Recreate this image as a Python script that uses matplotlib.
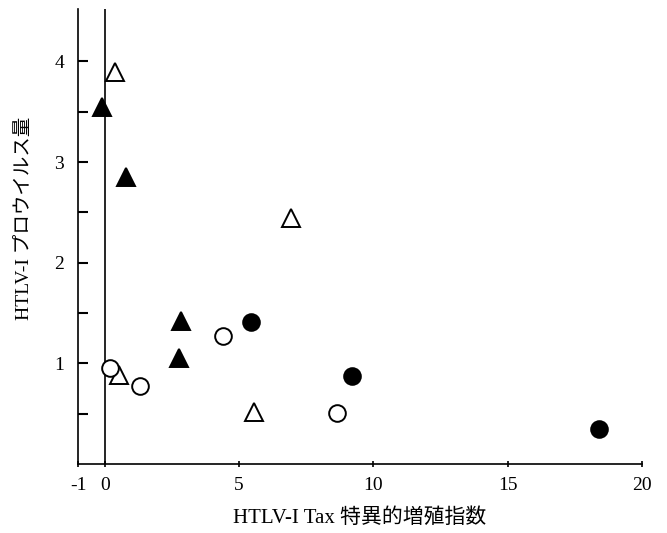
import matplotlib
matplotlib.use("Agg")
import matplotlib.pyplot as plt

plt.rcParams['font.family'] = ['Liberation Serif', 'Noto Sans CJK JP', 'DejaVu Sans']

# Data
filled_tri_x = [-0.1, 0.8, 2.84, 2.76]
filled_tri_y = [3.55, 2.85, 1.42, 1.05]
open_tri_x = [0.37, 6.94, 5.56, 0.52]
open_tri_y = [3.89, 2.44, 0.52, 0.88]
open_circ_x = [0.19, 1.31, 4.4, 8.66]
open_circ_y = [0.95, 0.77, 1.27, 0.51]
filled_circ_x = [5.45, 9.2, 18.4]
filled_circ_y = [1.41, 0.87, 0.35]

x_ticks = [-1, 0, 5, 10, 15, 20]
y_major = [1, 2, 3, 4]
y_minor = [0.5, 1.5, 2.5, 3.5]

xlabel = "HTLV-I Tax 特異的増殖指数"
ylabel = "HTLV-I プロウイルス量"

fig = plt.figure(figsize=(6.67, 5.33), dpi=100)
ax = fig.add_axes([0.117, 0.1295, 0.8455, 0.8535])

ax.axvline(0, color='black', lw=1.2, zorder=1)

ms = 12
ax.plot(open_tri_x, open_tri_y, linestyle='none', marker='^', ms=ms + 1,
        mfc='white', mec='black', mew=1.4, zorder=3)
ax.plot(filled_tri_x, filled_tri_y, linestyle='none', marker='^', ms=ms + 1,
        mfc='black', mec='black', mew=1.4, zorder=3)
ax.plot(open_circ_x, open_circ_y, linestyle='none', marker='o', ms=ms,
        mfc='white', mec='black', mew=1.4, zorder=3)
ax.plot(filled_circ_x, filled_circ_y, linestyle='none', marker='o', ms=ms,
        mfc='black', mec='black', mew=1.4, zorder=3)

ax.set_xlim(-1, 20)
ax.set_ylim(0, 4.52)

ax.spines['top'].set_visible(False)
ax.spines['right'].set_visible(False)
ax.spines['left'].set_linewidth(1.2)
ax.spines['bottom'].set_linewidth(1.2)

ax.set_xticks(x_ticks)
ax.set_xticklabels([str(t) for t in x_ticks], fontsize=14)
ax.set_yticks(y_major)
ax.set_yticklabels([str(t) for t in y_major], fontsize=14)
ax.set_yticks(y_minor, minor=True)
ax.tick_params(axis='y', which='both', direction='in', length=7, width=1.5, pad=10)
ax.tick_params(axis='x', which='both', direction='inout', length=5, width=1.2, pad=7)

ax.set_xlabel(xlabel, fontsize=15, labelpad=10)
ax.set_ylabel(ylabel, fontsize=14)
ax.yaxis.set_label_coords(-0.079, 0.54)

fig.savefig("out.png", dpi=100)
